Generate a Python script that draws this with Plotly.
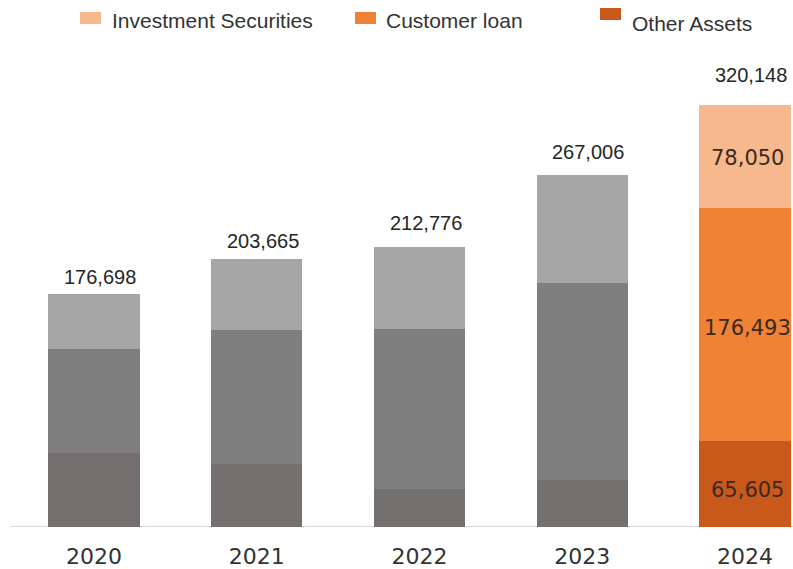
import plotly.graph_objects as go

# Total assets breakdown by year
years = ["2020", "2021", "2022", "2023", "2024"]
investment_securities = [41658, 54205, 62556, 81886, 78050]
customer_loan = [78900, 101660, 121390, 149460, 176493]
other_assets = [56140, 47800, 28830, 35660, 65605]
totals = [176698, 203665, 212776, 267006, 320148]

W, H = 793, 569
PLOT_BOTTOM = 527          # pixel row of the baseline
PX_PER_UNIT = 422 / 320148

# grey for past years, orange shades for the latest year
grey = {"inv": "#a6a6a6", "loan": "#7f7f7f", "other": "#747070"}
orange = {"inv": "#f6b88c", "loan": "#ef8234", "other": "#c9581b"}


def colors(key):
    return [orange[key] if y == years[-1] else grey[key] for y in years]


fig = go.Figure()
for key, name, vals in [("other", "Other Assets", other_assets),
                        ("loan", "Customer loan", customer_loan),
                        ("inv", "Investment Securities", investment_securities)]:
    fig.add_trace(go.Bar(
        x=years, y=vals, name=name, width=0.56,
        marker=dict(color=colors(key), line=dict(width=0)),
        showlegend=False, hoverinfo="x+y+name",
    ))

annotations = []

# totals above each bar (category axis: annotations placed by category index)
total_gap = [17, 18, 24, 23, 30]
for i, (tot, gap) in enumerate(zip(totals, total_gap)):
    annotations.append(dict(
        x=i, y=tot, xref="x", yref="y", text=f"{tot:,}", showarrow=False,
        yanchor="middle", yshift=gap, xshift=6,
        font=dict(family="Liberation Sans, Arial, sans-serif", size=20, color="#262626"),
    ))

# segment values on the latest bar
last = len(years) - 1
base = 0
for seg, shift in [(other_assets, -6), (customer_loan, -4), (investment_securities, -2)]:
    v = seg[last]
    annotations.append(dict(
        x=last, y=base + v / 2, xref="x", yref="y", text=f"{v:,}",
        showarrow=False, yanchor="middle", yshift=shift, xshift=3,
        font=dict(family="DejaVu Sans, sans-serif", size=21, color="#3b2a20"),
    ))
    base += v


def px_x(p):
    return p / W


def px_y(p):
    return (PLOT_BOTTOM - p) / PLOT_BOTTOM


# legend drawn across the top
shapes = []
legend_items = [
    ("Investment Securities", orange["inv"], 80, 101, 12, 24, 110, 21),
    ("Customer loan", orange["loan"], 355, 376, 12, 24, 384, 21),
    ("Other Assets", orange["other"], 600, 621, 8, 20, 630, 24),
]
for label, col, x0, x1, y0, y1, tx, ty in legend_items:
    shapes.append(dict(type="rect", xref="paper", yref="paper",
                       x0=px_x(x0), x1=px_x(x1), y0=px_y(y1), y1=px_y(y0),
                       fillcolor=col, line=dict(width=0), layer="above"))
    annotations.append(dict(
        x=px_x(tx), y=px_y(ty), xref="paper", yref="paper", text=label,
        showarrow=False, xanchor="left", yanchor="middle",
        font=dict(family="Liberation Sans, Arial, sans-serif", size=21, color="#333333"),
    ))

# baseline
shapes.append(dict(type="line", xref="paper", yref="y", x0=px_x(10), x1=1,
                   y0=0, y1=0, line=dict(color="#d9d9d9", width=2), layer="below"))

fig.update_layout(
    barmode="stack",
    width=W, height=H,
    margin=dict(l=0, r=0, t=0, b=H - PLOT_BOTTOM),
    paper_bgcolor="white", plot_bgcolor="white",
    xaxis=dict(
        type="category", range=[-0.578, 4.295], showgrid=False, zeroline=False,
        showline=False, ticks="", ticklabelstandoff=14,
        tickfont=dict(family="DejaVu Sans, sans-serif", size=22, color="#333333"),
    ),
    yaxis=dict(range=[0, PLOT_BOTTOM / PX_PER_UNIT], visible=False),
    annotations=annotations,
    shapes=shapes,
)

fig.write_html("out.html")
